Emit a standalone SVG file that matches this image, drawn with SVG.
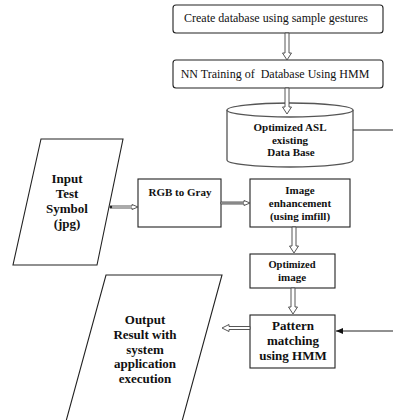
<svg xmlns="http://www.w3.org/2000/svg" width="393" height="420" viewBox="0 0 393 420">
<defs>
<style>
.bx{fill:#fff;stroke:#222;stroke-width:1.1}
.cyl{fill:#fff;stroke:#555;stroke-width:1.3}
.ha{fill:#fff;stroke:#444;stroke-width:0.9}
.ln{fill:none;stroke:#222;stroke-width:1}
.t{font-family:"Liberation Serif","Times New Roman",serif;fill:#111;text-anchor:middle}
.r12{font-size:12px}
.b13{font-size:13px;font-weight:bold}
.b11{font-size:11px;font-weight:bold}
.b10{font-size:10.5px;font-weight:bold}
</style>
<marker id="fa" markerWidth="8" markerHeight="8" refX="7" refY="4" orient="auto" markerUnits="userSpaceOnUse">
<path d="M0,1 L7,4 L0,7 Z" fill="#111"/>
</marker>
</defs>
<rect width="393" height="420" fill="#fff"/>

<g id="create">
<rect class="bx" x="173" y="5" width="210" height="28" rx="3"/>
<text class="t r12" x="276" y="22">Create database using sample gestures</text>
</g>
<g id="nntrain">
<rect class="bx" x="173" y="60" width="210" height="28" rx="3"/>
<text class="t r12" x="275" y="78" xml:space="preserve">NN Training of  Database Using HMM</text>
</g>
<g id="db">
<path class="cyl" d="M227,110 L227,160 A63,7 0 0 0 353,160 L353,110"/>
<ellipse class="cyl" cx="290" cy="110" rx="63" ry="7"/>
<text class="t b11" x="290" y="131">Optimized ASL</text>
<text class="t b11" x="290" y="144">existing</text>
<text class="t b11" x="291" y="156">Data Base</text>
</g>
<g id="input">
<polygon class="bx" points="41,139 123,139 97,265 13,265"/>
<text class="t b13" x="67" y="183">Input</text>
<text class="t b13" x="67" y="198">Test</text>
<text class="t b13" x="67" y="213">Symbol</text>
<text class="t b13" x="67" y="228">(jpg)</text>
</g>
<g id="rgb">
<rect class="bx" x="138" y="179" width="83" height="48"/>
<text class="t b11" x="180" y="196">RGB to Gray</text>
</g>
<g id="enh">
<rect class="bx" x="250" y="179" width="100" height="48"/>
<text class="t b11" x="300" y="194">Image</text>
<text class="t b11" x="300" y="207">enhancement</text>
<text class="t b11" x="300" y="220">(using imfill)</text>
</g>
<g id="optimg">
<rect class="bx" x="250" y="254" width="85" height="34"/>
<text class="t b10" x="292" y="268">Optimized</text>
<text class="t b11" x="292" y="281">image</text>
</g>
<g id="pattern">
<rect class="bx" x="250" y="315" width="85" height="53"/>
<text class="t b13" x="293" y="330">Pattern</text>
<text class="t b13" x="293" y="345">matching</text>
<text class="t b13" x="293" y="360">using HMM</text>
</g>
<g id="output">
<polygon class="bx" points="106,275 222,275 181,425 65,425"/>
<text class="t b13" x="145" y="324">Output</text>
<text class="t b13" x="145" y="339">Result with</text>
<text class="t b13" x="145" y="354">system</text>
<text class="t b13" x="145" y="368">application</text>
<text class="t b13" x="145" y="383">execution</text>
</g>

<g id="connectors">
<polygon class="ha" points="285,33 289,33 289,53 291.5,53 287,60 282.5,53 285,53"/>
<polygon class="ha" points="285,88 289,88 289,107 291.5,107 287,114 282.5,107 285,107"/>
<line class="ln" x1="353" y1="130" x2="393" y2="130"/>
<polygon class="ha" points="110,206 132,206 132,204.5 138,207 132,209.5 132,208 110,208"/>
<circle cx="111" cy="207" r="1.2" fill="#222"/>
<polygon points="221,202 244,202 244,200.5 250,203 244,205.5 244,204 221,204" fill="#fff" stroke="#444" stroke-width="0.9"/>
<rect x="221" y="202" width="23" height="2" fill="#888"/>
<polygon class="ha" points="292,227 296,227 296,246 298.5,246 294,253 289.5,246 292,246"/>
<polygon class="ha" points="291,288 295,288 295,307 297.5,307 293,314 288.5,307 291,307"/>
<polygon class="ha" points="250,326.5 229,326.5 229,324.5 222,328 229,331.5 229,329.5 250,329.5"/>
<line class="ln" x1="393" y1="331" x2="336" y2="331" marker-end="url(#fa)"/>
</g>
</svg>
